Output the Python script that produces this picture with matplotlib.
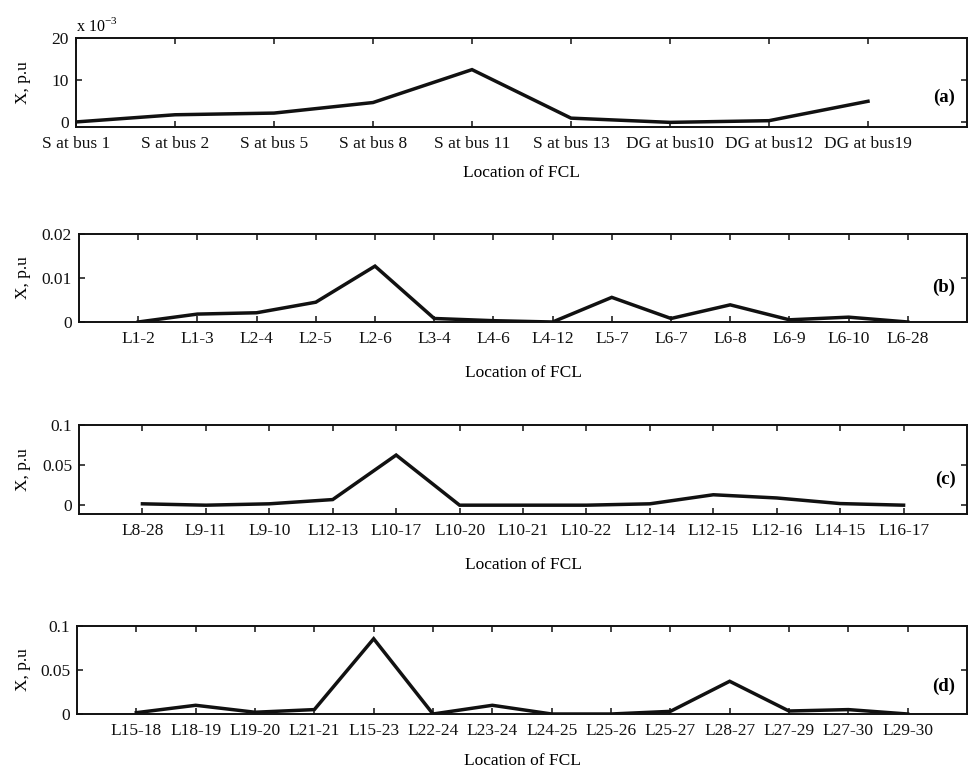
import numpy as np
import matplotlib
matplotlib.use('Agg')
import matplotlib.pyplot as plt

plt.rcParams['font.family'] = ['Liberation Serif', 'DejaVu Serif']
plt.rcParams['mathtext.fontset'] = 'custom'
plt.rcParams['mathtext.rm'] = 'Liberation Serif'

# (a) source / DG locations, X in units of 1e-3 p.u
a_labels = ['S at bus 1', 'S at bus 2', 'S at bus 5', 'S at bus 8', 'S at bus 11',
            'S at bus 13', 'DG at bus10', 'DG at bus12', 'DG at bus19']
a_vals = [0.1, 1.8, 2.2, 4.7, 12.5, 1.0, 0.0, 0.4, 5.0]

# (b) lines
b_labels = ['L1-2', 'L1-3', 'L2-4', 'L2-5', 'L2-6', 'L3-4', 'L4-6', 'L4-12',
            'L5-7', 'L6-7', 'L6-8', 'L6-9', 'L6-10', 'L6-28']
b_vals = [0.0, 0.0018, 0.0021, 0.0045, 0.0127, 0.0008, 0.0003, 0.0,
          0.0056, 0.0008, 0.0039, 0.0005, 0.0011, 0.0]

# (c)
c_labels = ['L8-28', 'L9-11', 'L9-10', 'L12-13', 'L10-17', 'L10-20', 'L10-21',
            'L10-22', 'L12-14', 'L12-15', 'L12-16', 'L14-15', 'L16-17']
c_vals = [0.0017, 0.0, 0.0017, 0.007, 0.0625, 0.0, 0.0, 0.0, 0.0017,
          0.013, 0.009, 0.002, 0.0]

# (d)
d_labels = ['L15-18', 'L18-19', 'L19-20', 'L21-21', 'L15-23', 'L22-24', 'L23-24',
            'L24-25', 'L25-26', 'L25-27', 'L28-27', 'L27-29', 'L27-30', 'L29-30']
d_vals = [0.0015, 0.0099, 0.002, 0.005, 0.0855, 0.0, 0.0099, 0.0, 0.0,
          0.003, 0.0372, 0.0034, 0.005, 0.0]

W, H = 972, 771
fig = plt.figure(figsize=(W / 100, H / 100), dpi=100)
FS = 12.5


def panel(box, x, vals, labels, xlim, ylim, yticks, yticklabels, tag, tag_y, labelpad):
    l, t, r, b = box
    ax = fig.add_axes([l / W, 1 - b / H, (r - l) / W, (b - t) / H])
    ax.plot(x, vals, color='#111111', lw=2.5, solid_joinstyle='miter')
    ax.set_xlim(*xlim)
    ax.set_ylim(*ylim)
    ax.set_xticks(x)
    ax.set_xticklabels(labels)
    ax.set_yticks(yticks)
    ax.set_yticklabels(yticklabels)
    ax.tick_params(direction='in', length=4.5, width=1.1, top=True, right=True,
                   labelsize=FS, colors='#111111')
    ax.tick_params(axis='x', pad=6.5)
    ax.tick_params(axis='y', pad=5)
    for s in ax.spines.values():
        s.set_linewidth(1.4)
        s.set_color('#111111')
    ax.set_xlabel('Location of FCL', fontsize=FS, labelpad=labelpad)
    ax.set_ylabel('X, p.u', fontsize=FS)
    # y label sits at a fixed distance from the figure edge
    ax.yaxis.set_label_coords((31 - l) / (r - l), 0.5)
    ax.text(0.987, tag_y, tag, transform=ax.transAxes, ha='right', va='center',
            fontsize=FS + 1, fontweight='bold')
    return ax


ax_a = panel((76, 38, 967, 127), np.arange(1, 10), a_vals, a_labels, (1, 10), (-1.1, 20),
             [0, 10, 20], ['0', '10', '20'], '(a)', 0.33, 9)
ax_a.text(0.0, 1.03, r'x 10$^{-3}$', transform=ax_a.transAxes, ha='left', va='bottom',
          fontsize=FS - 1)

panel((79, 234, 967, 322), np.arange(1, 15), b_vals, b_labels, (0, 15), (0, 0.02),
      [0, 0.01, 0.02], ['0', '0.01', '0.02'], '(b)', 0.39, 13)

panel((79, 425, 967, 514), np.arange(1, 14), c_vals, c_labels, (0, 14), (-0.011, 0.1),
      [0, 0.05, 0.1], ['0', '0.05', '0.1'], '(c)', 0.39, 13)

panel((77, 626, 967, 714), np.arange(1, 15), d_vals, d_labels, (0, 15), (0, 0.1),
      [0, 0.05, 0.1], ['0', '0.05', '0.1'], '(d)', 0.31, 10)

fig.savefig('out.png', dpi=100)
